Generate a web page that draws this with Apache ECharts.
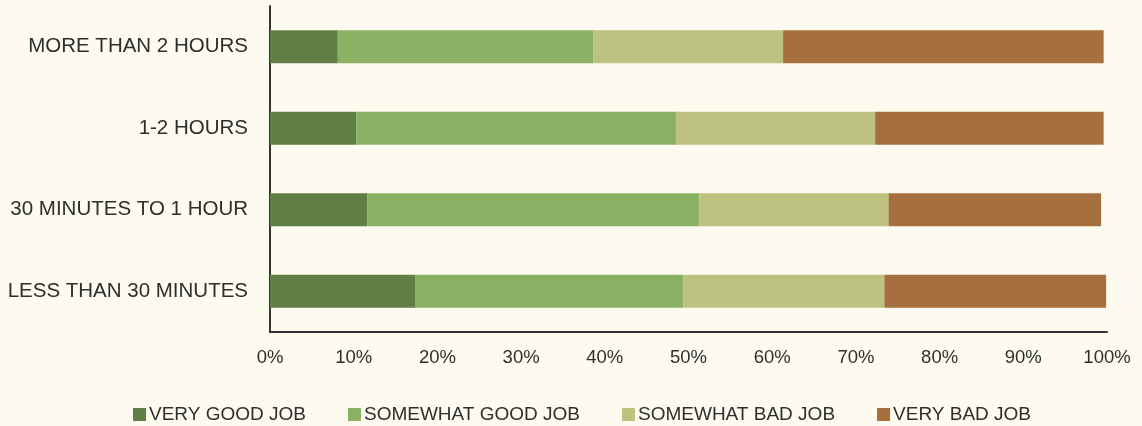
<!DOCTYPE html>
<html>
<head>
<meta charset="utf-8">
<script src="https://cdn.jsdelivr.net/npm/echarts@6/dist/echarts.min.js"></script>
<style>
  html, body { margin: 0; padding: 0; background: #FDFBEF; }
  #chart { width: 1142px; height: 426px; }
</style>
</head>
<body>
<div id="chart"></div>
<script>
// Categories (bottom to top as drawn by the category axis)
const categories = ['LESS THAN 30 MINUTES', '30 MINUTES TO 1 HOUR', '1-2 HOURS', 'MORE THAN 2 HOURS'];
const seriesNames = ['VERY GOOD JOB', 'SOMEWHAT GOOD JOB', 'SOMEWHAT BAD JOB', 'VERY BAD JOB'];
const veryGood     = [17.4, 11.6, 10.3, 8.1];
const somewhatGood = [32.0, 39.7, 38.2, 30.5];
const somewhatBad  = [24.0, 22.6, 23.8, 22.7];
const veryBad      = [26.5, 25.4, 27.3, 38.3];
const xTicks = [0, 10, 20, 30, 40, 50, 60, 70, 80, 90, 100];
const colors = ['#617E47', '#8AB063', '#BDC281', '#A66F3E'];

const values = [veryGood, somewhatGood, somewhatBad, veryBad];
const textColor = '#2E2E2E';
const fontFamily = '"Liberation Sans", Arial, Helvetica, sans-serif';

const chart = echarts.init(document.getElementById('chart'), null, { renderer: 'canvas' });
chart.setOption({
  backgroundColor: '#FDFBEF',
  animation: false,
  grid: { left: 270, right: 35, top: 6, bottom: 94, containLabel: false },
  legend: {
    data: seriesNames,
    left: 128,
    top: 400,
    itemWidth: 13,
    itemHeight: 13,
    itemGap: 42,
    icon: 'rect',
    textStyle: { color: textColor, fontSize: 19, fontFamily: fontFamily, padding: [0, 0, 0, -2] }
  },
  xAxis: {
    type: 'value',
    min: xTicks[0],
    max: xTicks[xTicks.length - 1],
    interval: xTicks[1] - xTicks[0],
    axisLine: { show: true, lineStyle: { color: '#333333', width: 2 } },
    axisTick: { show: false },
    splitLine: { show: false },
    axisLabel: {
      color: textColor,
      fontSize: 18.5,
      fontFamily: fontFamily,
      margin: 16,
      formatter: v => v + '%'
    }
  },
  yAxis: {
    type: 'category',
    data: categories,
    axisLine: { show: true, lineStyle: { color: '#333333', width: 2 } },
    axisTick: { show: false },
    splitLine: { show: false },
    axisLabel: {
      color: textColor,
      fontSize: 20.5,
      fontFamily: fontFamily,
      margin: 22
    }
  },
  series: seriesNames.map((name, i) => ({
    name: name,
    type: 'bar',
    stack: 'total',
    barWidth: 33,
    data: values[i],
    itemStyle: { color: colors[i] }
  }))
});
</script>
</body>
</html>
